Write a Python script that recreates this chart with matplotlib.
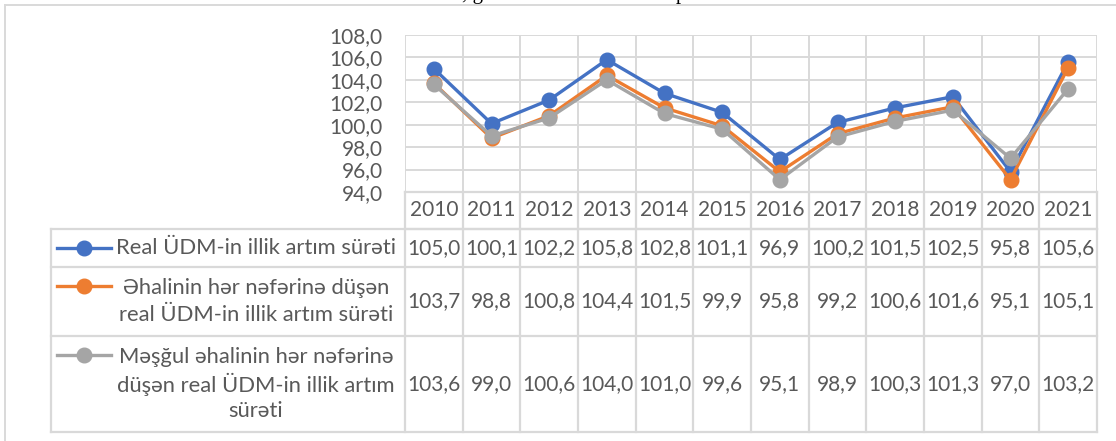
import matplotlib
matplotlib.use("Agg")
import matplotlib.pyplot as plt
import numpy as np

# data
years = [2010, 2011, 2012, 2013, 2014, 2015, 2016, 2017, 2018, 2019, 2020, 2021]
real_gdp = [105.0, 100.1, 102.2, 105.8, 102.8, 101.1, 96.9, 100.2, 101.5, 102.5, 95.8, 105.6]
per_capita = [103.7, 98.8, 100.8, 104.4, 101.5, 99.9, 95.8, 99.2, 100.6, 101.6, 95.1, 105.1]
per_employed = [103.6, 99.0, 100.6, 104.0, 101.0, 99.6, 95.1, 98.9, 100.3, 101.3, 97.0, 103.2]

series_labels = [
    ["Real ÜDM-in illik artım sürəti"],
    ["Əhalinin hər nəfərinə düşən", "real ÜDM-in illik artım sürəti"],
    ["Məşğul əhalinin hər nəfərinə", "düşən real ÜDM-in illik artım", "sürəti"],
]
series_values = [real_gdp, per_capita, per_employed]
colors = ["#4472C4", "#ED7D31", "#A5A5A5"]
yticks = [94, 96, 98, 100, 102, 104, 106, 108]

def fmt(v):
    return f"{v:.1f}".replace(".", ",")

W, H = 1116, 441
FONT = ["Lato", "DejaVu Sans"]
FS = 15
FS_LAB = 15.8
TXT = "#595959"
GRID = "#D9D9D9"

plt.rcParams["font.family"] = FONT

fig = plt.figure(figsize=(W / 100, H / 100), dpi=100)

# layout in pixels
x0, x1 = 405, 1097
y_top, y_axis = 35, 192
row_edges = [229, 267, 336, 432]
tab_left = 51
cw = (x1 - x0) / len(years)

# plot area
ax = fig.add_axes([x0 / W, 1 - y_axis / H, (x1 - x0) / W, (y_axis - y_top) / H])
xs = np.arange(len(years))
for vals, c in zip(series_values, colors):
    ax.plot(xs, vals, color=c, lw=2.4, marker="o", ms=10.5, solid_capstyle="round")
ax.set_xlim(-0.5, len(years) - 0.5)
ax.set_ylim(yticks[0], yticks[-1])
ax.set_yticks(yticks)
ax.set_yticklabels([fmt(t) for t in yticks], fontsize=FS, color=TXT)
ax.set_xticks(np.arange(-0.5, len(years), 1))
ax.set_xticklabels([])
ax.tick_params(length=0, pad=16)
ax.grid(True, color=GRID, lw=1.4)
ax.set_axisbelow(True)
for s in ax.spines.values():
    s.set_visible(False)

# overlay axes in pixel coords for table and frame
ov = fig.add_axes([0, 0, 1, 1], facecolor="none")
ov.set_xlim(0, W)
ov.set_ylim(H, 0)
ov.axis("off")

# outer frame
ov.plot([5, W + 5], [5, 5], color=GRID, lw=1.4)
ov.plot([5, 5], [5, H + 5], color=GRID, lw=1.4)

# title remnants cut off at the top
ov.text(462, -0.5, ", g", fontsize=15, family="Liberation Serif", va="baseline", color="black")
ov.text(676, -0.5, "p", fontsize=15, family="Liberation Serif", va="baseline", color="black")

# table lines
lw_t = 1.6
ov.plot([x0, x1], [row_edges[0], row_edges[0]], color=GRID, lw=lw_t)
ov.plot([x0, x1], [y_axis, y_axis], color=GRID, lw=lw_t)
for y in row_edges:
    ov.plot([tab_left, x1], [y, y], color=GRID, lw=lw_t)
ov.plot([tab_left, tab_left], [row_edges[0], row_edges[-1]], color=GRID, lw=lw_t)
for k in range(len(years) + 1):
    xk = x0 + k * cw
    ov.plot([xk, xk], [y_axis, row_edges[-1]], color=GRID, lw=lw_t)

# header years
for i, yr in enumerate(years):
    ov.text(x0 + (i + 0.5) * cw, (y_axis + row_edges[0]) / 2, str(yr),
            ha="center", va="center", fontsize=FS, color=TXT)

# rows
line_h = 27
for r, (lines, vals, c) in enumerate(zip(series_labels, series_values, colors)):
    top, bot = row_edges[r], row_edges[r + 1]
    yc = (top + bot) / 2
    n = len(lines)
    ys = [yc + (j - (n - 1) / 2) * line_h for j in range(n)]
    for j, (ln, yy) in enumerate(zip(lines, ys)):
        ov.text(256, yy, ln, ha="center", va="center", fontsize=FS_LAB, color=TXT)
    # legend key
    ky = ys[0] - 2 if n > 1 else yc
    ov.plot([57, 111], [ky, ky], color=c, lw=2.4)
    ov.plot([84], [ky], marker="o", ms=10.5, color=c)
    for i, v in enumerate(vals):
        ov.text(x0 + (i + 0.5) * cw, yc, fmt(v), ha="center", va="center",
                fontsize=FS, color=TXT)

fig.savefig("out.png", dpi=100)
